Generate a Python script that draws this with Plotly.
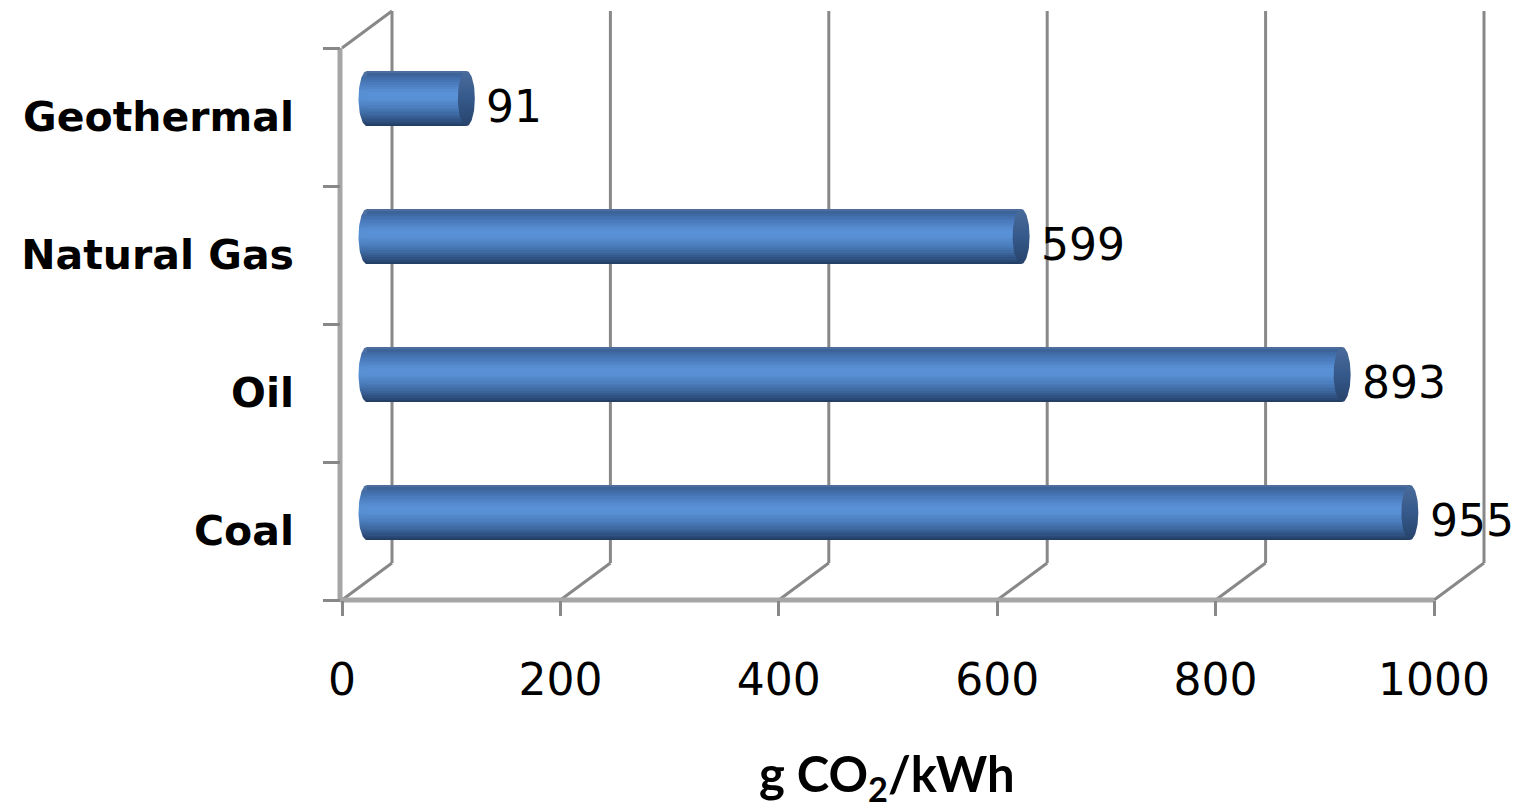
import numpy as np
import plotly.graph_objects as go

# ---- data -------------------------------------------------------------
categories = ["Coal", "Oil", "Natural Gas", "Geothermal"]
emissions = [955, 893, 599, 91]          # g CO2 / kWh
x_ticks = [0, 200, 400, 600, 800, 1000]

# ---- geometry of the pseudo-3D box (pixels) ----------------------------
W, H = 1526, 809
S = 1.092          # px per value unit
U = 138.0          # px per category step
X0 = 342           # px position of value 0 on the front floor edge
FLOOR = 600        # px (from top) of the front floor edge
DX, DY = 50, 37    # depth offset of the back wall, px

# front frame axes
fx_range = [-X0 / S, (W - X0) / S]
fy0 = -0.5 - (H - FLOOR) / U
fy_range = [fy0, fy0 + H / U]
# bar axes: half-way into the depth
bx_range = [fx_range[0] - (DX / 2) / S, fx_range[1] - (DX / 2) / S]
by_range = [fy_range[0] - (DY / 2) / U, fy_range[1] - (DY / 2) / U]

dxu = DX / S
dyu = DY / U
n_cat = len(categories)
y_bottom, y_top = -0.5, n_cat - 0.5

GRID = "#888888"
EDGE = "#a6a6a6"
FONT = "DejaVu Sans"

fig = go.Figure()

# back wall gridlines
gx, gy = [], []
for v in x_ticks:
    gx += [v + dxu, v + dxu, None]
    gy += [y_bottom + dyu, y_top + dyu, None]
fig.add_trace(go.Scatter(x=gx, y=gy, mode="lines", line=dict(color=GRID, width=3),
                         hoverinfo="skip", showlegend=False))

# floor diagonals and left-wall top edge
dx_, dy_ = [], []
for v in x_ticks:
    dx_ += [v, v + dxu, None]
    dy_ += [y_bottom, y_bottom + dyu, None]
dx_ += [0, dxu, None]
dy_ += [y_top, y_top + dyu, None]
fig.add_trace(go.Scatter(x=dx_, y=dy_, mode="lines", line=dict(color=GRID, width=3),
                         hoverinfo="skip", showlegend=False))

# front edges of the floor and the side wall
fig.add_trace(go.Scatter(x=[-2 / S, -2 / S, None, -2 / S, x_ticks[-1]],
                         y=[y_top, y_bottom, None, y_bottom, y_bottom],
                         mode="lines", line=dict(color=EDGE, width=5),
                         hoverinfo="skip", showlegend=False))

# ---- cylinders ----------------------------------------------------------
# vertical shading of the cylinder, t = 0 at the top edge, 1 at the bottom
shade_t = [0.00, 0.06, 0.20, 0.40, 0.50, 0.65, 0.80, 0.92, 1.00]
shade_c = ["#56729c", "#3d6499", "#4777b8", "#5a92d7", "#5890d4",
           "#4c7fbf", "#3c669d", "#2d4d7c", "#213a5e"]


def hex2rgb(h):
    h = h.lstrip("#")
    return np.array([int(h[i:i + 2], 16) for i in (0, 2, 4)], float)


def shade(t):
    rgb = [np.interp(t, shade_t, [hex2rgb(c)[k] for c in shade_c]) for k in range(3)]
    return "rgb({:.0f},{:.0f},{:.0f})".format(*rgb)


BAR_W = 0.4
N = 24
w = BAR_W / N
ypos = list(range(n_cat))
for k in range(N):
    t = 1 - (k + 0.5) / N
    width = w * (1.3 if k < N - 1 else 1.0)
    fig.add_trace(go.Bar(x=emissions, y=ypos, orientation="h",
                         width=width, offset=-BAR_W / 2 + k * w,
                         marker=dict(color=shade(t), line=dict(width=0)),
                         xaxis="x2", yaxis="y2", hoverinfo="skip", showlegend=False))

cap_a = 8.5 / S
cap_b = BAR_W / 2
theta_l = np.linspace(np.pi / 2, 3 * np.pi / 2, 40)
theta = np.linspace(0, 2 * np.pi, 80)
scale_up = [[i / 8, shade(1 - i / 8)] for i in range(9)]  # bottom -> top
for i, v in enumerate(emissions):
    # rounded near end of the cylinder
    fig.add_trace(go.Scatter(x=0 + cap_a * np.cos(theta_l), y=i + cap_b * np.sin(theta_l),
                             mode="lines", fill="toself", line=dict(width=0),
                             fillgradient=dict(type="vertical", colorscale=scale_up,
                                               start=i - cap_b, stop=i + cap_b),
                             xaxis="x2", yaxis="y2", hoverinfo="skip", showlegend=False))
    # far end cap
    fig.add_trace(go.Scatter(x=v + cap_a * np.cos(theta), y=i + cap_b * np.sin(theta),
                             mode="lines", fill="toself", line=dict(width=0),
                             fillgradient=dict(type="vertical",
                                               colorscale=[[0, "#27436b"], [0.5, "#35598a"],
                                                           [1, "#4a6c9c"]],
                                               start=i - cap_b, stop=i + cap_b),
                             xaxis="x2", yaxis="y2", hoverinfo="skip", showlegend=False))

# value labels
annotations = []
for i, v in enumerate(emissions):
    annotations.append(dict(x=v, y=i, xref="x2", yref="y2", text=str(v),
                            xanchor="left", yanchor="middle", xshift=18, yshift=-8,
                            showarrow=False, font=dict(family=FONT, size=44, color="black")))
# axis title
annotations.append(dict(x=887 / W, y=(H - 776) / H, xref="paper", yref="paper",
                        text="g CO<sub>2</sub>/kWh", xanchor="center", yanchor="middle",
                        showarrow=False,
                        font=dict(family="Lato", size=49, color="black", weight="bold")))

fig.update_layout(
    width=W, height=H,
    margin=dict(l=0, r=0, t=0, b=0),
    paper_bgcolor="white", plot_bgcolor="rgba(0,0,0,0)",
    barmode="overlay", bargap=0,
    showlegend=False,
    annotations=annotations,
    xaxis=dict(domain=[0, 1], range=fx_range, anchor="free", position=(H - FLOOR) / H,
               tickvals=x_ticks, ticktext=[str(v) for v in x_ticks],
               ticks="outside", ticklen=15, tickwidth=3, tickcolor=GRID,
               ticklabelstandoff=26,
               tickfont=dict(family=FONT, size=44, color="black"),
               showgrid=False, zeroline=False, showline=False, fixedrange=True),
    yaxis=dict(domain=[0, 1], range=fy_range, anchor="free", position=340 / W,
               tickvals=ypos, ticktext=categories, ticks="",
               minor=dict(tickvals=[y_bottom + j for j in range(n_cat + 1)],
                          ticks="outside", ticklen=17, tickwidth=3, tickcolor=GRID,
                          showgrid=False),
               ticklabelstandoff=46,
               tickfont=dict(family=FONT, size=41, color="black", weight="bold"),
               showgrid=False, zeroline=False, showline=False, fixedrange=True),
    xaxis2=dict(overlaying="x", range=bx_range, visible=False, fixedrange=True),
    yaxis2=dict(overlaying="y", range=by_range, visible=False, fixedrange=True),
)

fig.write_html("out.html")
